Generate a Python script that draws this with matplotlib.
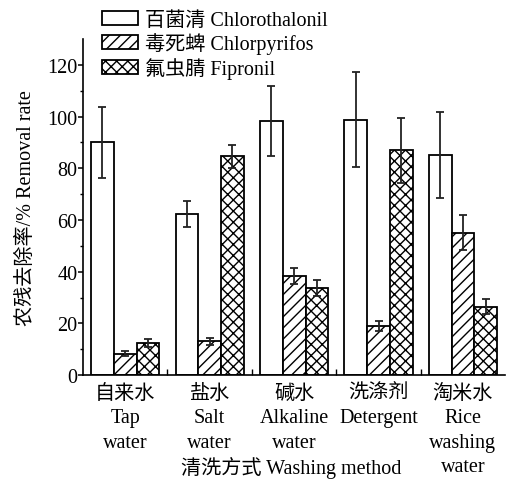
import matplotlib
matplotlib.use("Agg")
import matplotlib.pyplot as plt
from matplotlib.patches import Rectangle
from matplotlib.ticker import FixedLocator
import numpy as np

plt.rcParams['font.family'] = ['Liberation Serif', 'Noto Sans CJK SC']
plt.rcParams['hatch.linewidth'] = 1.0
plt.rcParams['axes.unicode_minus'] = False

methods = ["自来水\nTap\nwater", "盐水\nSalt\nwater", "碱水\nAlkaline\nwater",
           "洗涤剂\nDetergent", "淘米水\nRice\nwashing\nwater"]
series_names = ["百菌清 Chlorothalonil", "毒死蜱 Chlorpyrifos", "氟虫腈 Fipronil"]
chlorothalonil = [90.0, 62.3, 98.3, 98.8, 85.2]
chlorothalonil_err = [13.8, 5.0, 13.7, 18.4, 16.5]
chlorpyrifos = [8.3, 13.0, 38.2, 18.9, 55.0]
chlorpyrifos_err = [1.0, 1.4, 3.1, 1.9, 6.8]
fipronil = [12.3, 84.7, 33.8, 86.9, 26.5]
fipronil_err = [1.5, 4.5, 3.1, 12.4, 3.0]

values = [chlorothalonil, chlorpyrifos, fipronil]
errors = [chlorothalonil_err, chlorpyrifos_err, fipronil_err]
hatches = ["", "///", "xxx"]

fig = plt.figure(figsize=(5.16, 4.89), dpi=100)
ax = fig.add_axes([0.161, 0.231, 0.818, 0.687])

x = np.arange(len(methods))
w = 0.27
fs = 14.5
for i, (vals, errs, h) in enumerate(zip(values, errors, hatches)):
    ax.bar(x + (i - 1) * w, vals, w, color="white", edgecolor="black",
           linewidth=1.3, hatch=h, zorder=2)
    ax.errorbar(x + (i - 1) * w, vals, yerr=errs, fmt="none", ecolor="#222222",
                elinewidth=1.3, capsize=3, capthick=1.3, zorder=3)

ax.set_xlim(-0.5, len(methods) - 0.5)
ax.set_ylim(0, 130)
ax.spines['top'].set_visible(False)
ax.spines['right'].set_visible(False)
for s in ('left', 'bottom'):
    ax.spines[s].set_linewidth(1.2)

ax.yaxis.set_major_locator(FixedLocator([0, 20, 40, 60, 80, 100, 120]))
ax.yaxis.set_minor_locator(FixedLocator(np.arange(10, 130, 20)))
ax.tick_params(axis='y', which='major', direction='out', length=3.5, width=1.1,
               labelsize=fs, pad=0.5)
ax.tick_params(axis='y', which='minor', direction='out', length=2.2, width=1.0)

ax.set_xticks(x)
ax.set_xticklabels(methods, fontsize=fs, linespacing=1.38)
ax.xaxis.set_minor_locator(FixedLocator(np.arange(0.5, len(methods) - 0.5, 1.0)))
ax.tick_params(axis='x', which='major', length=0, pad=6.5)
ax.tick_params(axis='x', which='minor', direction='in', length=4, width=1.0)

ax.set_ylabel("农残去除率/% Removal rate", fontsize=fs, labelpad=8)
fig.text(0.565, 0.043, "清洗方式 Washing method", ha='center', va='center',
         fontsize=fs)

handles = [Rectangle((0, 0), 1, 1, facecolor="white", edgecolor="black",
                     linewidth=1.3, hatch=h) for h in hatches]
fig.legend(handles, series_names, loc='upper left',
           bbox_to_anchor=(0.183, 0.992), frameon=False, fontsize=fs,
           handlelength=1.75, handleheight=0.7, handletextpad=0.35,
           labelspacing=0.12, borderaxespad=0)

fig.savefig("out.png", dpi=100)
